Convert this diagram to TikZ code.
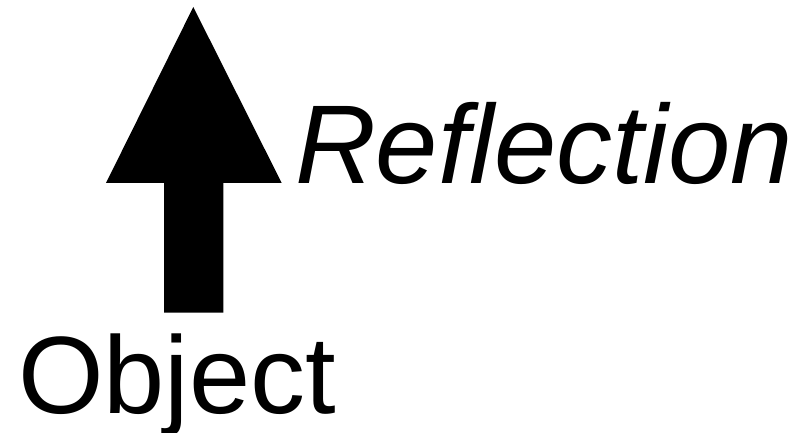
\documentclass[tikz,border=0pt]{standalone}
\usepackage{fontspec}
\newfontfamily\arialfont{Liberation Sans}
\usepackage{tikz}
\usetikzlibrary{positioning}

\begin{document}
\begin{tikzpicture}[x=1pt, y=-1pt,
  every node/.style={inner sep=0pt, outer sep=0pt},
  bigtext/.style={font=\arialfont\fontsize{110}{120}\selectfont, anchor=base west}]
\useasboundingbox (0,0) rectangle (804,433);
%% --- Arrow ---
\fill[black] (193.3,7) -- (281.7,183) -- (223.3,183) -- (223.3,312.7)
  -- (164,312.7) -- (164,183) -- (106,183) -- cycle;
%% --- Labels ---
\node[bigtext, font=\arialfont\fontsize{112}{120}\selectfont] (reflection) at (295,184) {\itshape Reflection};
\node[bigtext] (object) at (18,413) {Object};
\end{tikzpicture}
\end{document}
